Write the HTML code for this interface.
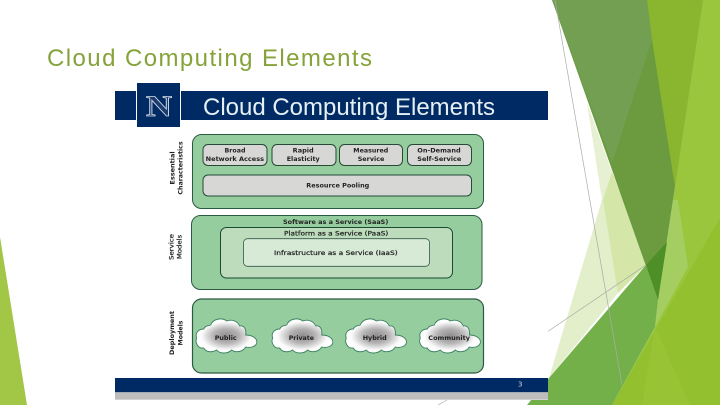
<!DOCTYPE html>
<html><head><meta charset="utf-8"><style>
html,body{margin:0;padding:0;background:#fff;width:720px;height:405px;overflow:hidden}
svg{display:block}
text{font-family:"DejaVu Sans","Liberation Sans",sans-serif}
.b{font-weight:bold;font-size:6.5px;fill:#222}
.r{font-weight:normal;stroke:#222;stroke-width:.22}
</style></head><body>
<svg width="720" height="405" viewBox="0 0 720 405" xmlns="http://www.w3.org/2000/svg">
<defs>
<radialGradient id="cg" cx="50%" cy="50%" r="50%"><stop offset="0" stop-color="#8f8c8e"/><stop offset=".42" stop-color="#b4b2b3"/><stop offset=".82" stop-color="#fbfbfb"/><stop offset="1" stop-color="#fff"/></radialGradient>
<path id="cloud" d="M8 11C10 7 13 8 15 7C17 1 26-1 31 3C36 1 42 3 44 8C48 7 51 11 50 17C56 17 62 20 61 25C60 29 54 30 50 29C47 34 40 35 36 32C32 36 24 36 21 32C16 35 10 34 8 30C2 31-1 24 1 20C-1 15 3 11 8 11Z" fill="url(#cg)" stroke="#3a8060" stroke-width=".9"/>
<filter id="soft" x="0" y="0" width="100%" height="100%"><feGaussianBlur stdDeviation=".3"/></filter>
</defs>

<!-- left accent -->
<polygon points="0,237 27,405 0,405" fill="#a2c646"/>

<!-- right facets -->
<polygon points="587,103 612,172 602,200" fill="#e7f0d3"/>
<polygon points="602,200 612,172 646,265 618,293 549,378" fill="#e3eecb"/>
<polygon points="612,172 623,200 646,265 618,293 603,200" fill="#d4e6a8"/>
<polygon points="703,0 720,0 720,405 612,405 655,327 658,300" fill="#99c63c"/>
<polygon points="552,0 703,0 658,300" fill="#6b9a3f"/>
<polygon points="647,0 703,0 675,187 652,40" fill="#8ab52f"/>
<polygon points="552,0 647,0 652,40 612,163" fill="#729f52"/>
<polygon points="673,200 678,200 688,267 655,327 658,300" fill="#a5ce62"/>
<polygon points="720,218 720,405 612,405" fill="#93c02f"/>
<polygon points="655,327 690,405 642,405" fill="#97c335"/>
<polygon points="527,405 549,378 646,265 658,300 655,327 612,405" fill="#74b04a"/>
<polygon points="646,265 667,242 658,300" fill="#4f8f28"/>

<!-- hairlines -->
<g stroke="#a9aca6" stroke-width=".7" fill="none">
<line x1="555" y1="0" x2="622" y2="385"/>
<line x1="547" y1="332" x2="646" y2="265"/>
<line x1="438" y1="405" x2="447" y2="400"/>
</g>

<!-- slide title -->
<text x="47" y="66" font-size="24" fill="#86a33a" textLength="325" lengthAdjust="spacing" style="font-family:'Liberation Sans',sans-serif">Cloud Computing Elements</text>

<!-- picture -->
<g filter="url(#soft)">
<rect x="115" y="83" width="433" height="317" fill="#fff"/>

<rect x="115" y="91" width="21" height="29" fill="#012c64"/>
<rect x="181" y="91" width="367" height="29" fill="#012c64"/>
<rect x="137" y="83" width="43" height="44" fill="#012c64"/>
<text x="146" y="116" font-size="30" font-weight="bold" fill="#1a3a6e" stroke="#cfd9e4" stroke-width=".8" textLength="26" lengthAdjust="spacingAndGlyphs" style="font-family:'Liberation Serif',serif">N</text>
<text x="203" y="115" font-size="24" fill="#e6f0f4" textLength="292" lengthAdjust="spacingAndGlyphs" style="font-family:'Liberation Sans',sans-serif">Cloud Computing Elements</text>

<rect x="192.5" y="134.5" width="291" height="74" rx="9" fill="#96cd9f" stroke="#2c5a42" stroke-width="1"/>
<g fill="#d7d7d5" stroke="#274a38" stroke-width="1">
<rect x="203" y="144.5" width="64" height="21" rx="5"/>
<rect x="272" y="144.5" width="64" height="21" rx="5"/>
<rect x="339.5" y="144.5" width="63" height="21" rx="5"/>
<rect x="407.5" y="144.5" width="64" height="21" rx="5"/>
<rect x="203" y="175" width="268.5" height="21" rx="5"/>
</g>
<text class="b" x="224.5" y="152.7" textLength="21" lengthAdjust="spacingAndGlyphs">Broad</text>
<text class="b" x="205.7" y="161" textLength="58.3" lengthAdjust="spacingAndGlyphs">Network Access</text>
<text class="b" x="292.7" y="152.7" textLength="21" lengthAdjust="spacingAndGlyphs">Rapid</text>
<text class="b" x="286.7" y="161" textLength="33" lengthAdjust="spacingAndGlyphs">Elasticity</text>
<text class="b" x="353.3" y="152.7" textLength="35" lengthAdjust="spacingAndGlyphs">Measured</text>
<text class="b" x="357.7" y="161" textLength="26.7" lengthAdjust="spacingAndGlyphs">Service</text>
<text class="b" x="417.3" y="152.7" textLength="43.4" lengthAdjust="spacingAndGlyphs">On-Demand</text>
<text class="b" x="417.3" y="161" textLength="44" lengthAdjust="spacingAndGlyphs">Self-Service</text>
<text class="b" x="306.3" y="187.3" textLength="63" lengthAdjust="spacingAndGlyphs">Resource Pooling</text>

<rect x="191.5" y="215.5" width="290.5" height="74" rx="9" fill="#96cd9f" stroke="#2c5a42" stroke-width="1"/>
<rect x="220.5" y="227.5" width="232" height="50.5" rx="6" fill="#bcdcbc" stroke="#1f4a33" stroke-width="1"/>
<rect x="243.5" y="238.7" width="186" height="27.6" rx="4" fill="#d7ead6" stroke="#35584a" stroke-width=".8"/>
<text class="b" x="283" y="224" textLength="105.3" lengthAdjust="spacingAndGlyphs">Software as a Service (SaaS)</text>
<text class="b r" x="284" y="235.7" textLength="104.3" lengthAdjust="spacingAndGlyphs">Platform as a Service (PaaS)</text>
<text class="b r" x="274" y="255" textLength="123.7" lengthAdjust="spacingAndGlyphs">Infrastructure as a Service (IaaS)</text>

<rect x="192.5" y="299" width="291" height="74" rx="9" fill="#96cd9f" stroke="#2c5a42" stroke-width="1.2"/>
<use href="#cloud" x="195.7" y="318"/>
<use href="#cloud" x="271.7" y="318"/>
<use href="#cloud" x="345.3" y="318"/>
<use href="#cloud" x="419.3" y="318"/>
<text class="b" x="214.7" y="340" textLength="22" lengthAdjust="spacingAndGlyphs">Public</text>
<text class="b" x="288.7" y="340" textLength="25.3" lengthAdjust="spacingAndGlyphs">Private</text>
<text class="b" x="362.7" y="340" textLength="24" lengthAdjust="spacingAndGlyphs">Hybrid</text>
<text class="b" x="428.3" y="340" textLength="41.7" lengthAdjust="spacingAndGlyphs">Community</text>

<g text-anchor="middle">
<text class="b" transform="translate(174.5,168) rotate(-90)" textLength="33.3" lengthAdjust="spacingAndGlyphs">Essential</text>
<text class="b" transform="translate(182.5,168) rotate(-90)" textLength="53.3" lengthAdjust="spacingAndGlyphs">Characteristics</text>
<text class="b r" transform="translate(173.5,247) rotate(-90)" textLength="26" lengthAdjust="spacingAndGlyphs">Service</text>
<text class="b r" transform="translate(181.5,247) rotate(-90)" textLength="24.3" lengthAdjust="spacingAndGlyphs">Models</text>
<text class="b" transform="translate(174,333) rotate(-90)" textLength="44" lengthAdjust="spacingAndGlyphs">Deployment</text>
<text class="b" transform="translate(182.5,333) rotate(-90)" textLength="25" lengthAdjust="spacingAndGlyphs">Models</text>
</g>

<rect x="115" y="378" width="433" height="14.3" fill="#012c64"/>
<rect x="115" y="392.3" width="433" height="7.4" fill="#bdbdbd"/>
<text x="518" y="386.5" font-size="7" fill="#c6d3df">3</text>
</g>
</svg>
</body></html>
